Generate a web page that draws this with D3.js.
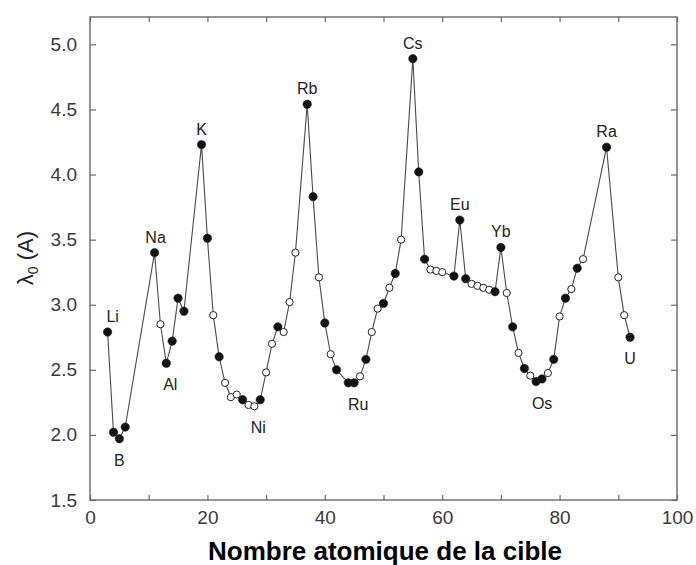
<!DOCTYPE html>
<html>
<head>
<meta charset="utf-8">
<script src="https://cdn.jsdelivr.net/npm/d3@7"></script>
<style>
  body { margin: 0; background: #fff; }
  svg { display: block; font-family: "Liberation Sans", Arial, sans-serif; }
</style>
</head>
<body>
<div id="chart"></div>
<script>
// numéro atomique de la cible et lambda_0 (A)
const atomicNumbers = [
  3, 4, 5, 6, 11, 12, 13, 14, 15, 16, 19, 20, 21, 22, 23, 24, 25, 26, 27, 28,
  29, 30, 31, 32, 33, 34, 35, 37, 38, 39, 40, 41, 42, 44, 45, 46, 47, 48, 49, 50,
  51, 52, 53, 55, 56, 57, 58, 59, 60, 62, 63, 64, 65, 66, 67, 68, 69, 70, 71, 72,
  73, 74, 75, 76, 77, 78, 79, 80, 81, 82, 83, 84, 88, 90, 91, 92
]
const lambdaValues = [
  2.79, 2.02, 1.97, 2.06, 3.40, 2.85, 2.55, 2.72, 3.05, 2.95, 4.23, 3.51, 2.92, 2.60, 2.40, 2.29, 2.31, 2.27, 2.23, 2.22,
  2.27, 2.48, 2.70, 2.83, 2.79, 3.02, 3.40, 4.54, 3.83, 3.21, 2.86, 2.62, 2.50, 2.40, 2.40, 2.45, 2.58, 2.79, 2.97, 3.01,
  3.13, 3.24, 3.50, 4.89, 4.02, 3.35, 3.27, 3.26, 3.25, 3.22, 3.65, 3.20, 3.16, 3.145, 3.13, 3.115, 3.10, 3.44, 3.09, 2.83,
  2.63, 2.51, 2.455, 2.41, 2.43, 2.475, 2.58, 2.91, 3.05, 3.12, 3.28, 3.35, 4.21, 3.21, 2.92, 2.75
]
// 1 = symbole plein, 0 = symbole creux
const filledFlags = [
  1, 1, 1, 1, 1, 0, 1, 1, 1, 1, 1, 1, 0, 1, 0, 0, 0, 1, 0, 0,
  1, 0, 0, 1, 0, 0, 0, 1, 1, 0, 1, 0, 1, 1, 1, 0, 1, 0, 0, 1,
  0, 1, 0, 1, 1, 1, 0, 0, 0, 1, 1, 1, 0, 0, 0, 0, 1, 1, 0, 1,
  0, 1, 0, 1, 1, 0, 1, 0, 1, 0, 1, 0, 1, 0, 0, 1
]

const labelNames = ["Li", "B", "Na", "Al", "K", "Ni", "Rb", "Ru", "Cs", "Eu", "Yb", "Os", "Ra", "U"]
const labelZ = [3, 5, 11, 13, 19, 28, 37, 44, 55, 63, 70, 76, 88, 92]
const labelSide = ["haut", "bas", "haut", "bas", "haut", "bas", "haut", "bas", "haut", "haut", "haut", "bas", "haut", "bas"]

const xTicks = [0, 10, 20, 30, 40, 50, 60, 70, 80, 90, 100]
const xTickLabels = [0, 20, 40, 60, 80, 100]
const yTicks = [1.5, 2.0, 2.5, 3.0, 3.5, 4.0, 4.5, 5.0]

const data = atomicNumbers.map((z, i) => ({ z, v: lambdaValues[i], filled: filledFlags[i] === 1 }))

const width = 696
const height = 565

const x = d3.scaleLinear().domain([0, 100]).range([90, 677])
const y = d3.scaleLinear().domain([1.5, 5.21]).range([500, 17])

const svg = d3.select("#chart")
  .append("svg")
  .attr("width", width)
  .attr("height", height)

const frameColor = "#6a6a6a"

// cadre
svg.append("rect")
  .attr("x", x(0))
  .attr("y", y(5.21))
  .attr("width", x(100) - x(0))
  .attr("height", y(1.5) - y(5.21))
  .attr("fill", "none")
  .attr("stroke", frameColor)
  .attr("stroke-width", 1.4)

function styleAxis(g) {
  g.select(".domain").remove()
  g.selectAll(".tick line").attr("stroke", frameColor).attr("stroke-width", 1.2)
  g.selectAll(".tick text")
    .attr("fill", "#3a3a3a")
    .style("font-size", "19px")
}

svg.append("g")
  .attr("transform", `translate(0,${y(1.5)})`)
  .call(d3.axisBottom(x).tickValues(xTicks).tickSizeInner(-5).tickSizeOuter(0).tickPadding(11)
    .tickFormat((d) => (xTickLabels.includes(d) ? d : "")))
  .call(styleAxis)

svg.append("g")
  .attr("transform", `translate(0,${y(5.21)})`)
  .call(d3.axisTop(x).tickValues(xTicks).tickSizeInner(-5).tickSizeOuter(0).tickFormat(""))
  .call(styleAxis)

svg.append("g")
  .attr("transform", `translate(${x(0)},0)`)
  .call(d3.axisLeft(y).tickValues(yTicks).tickSizeInner(-6).tickSizeOuter(0).tickPadding(13)
    .tickFormat(d3.format(".1f")))
  .call(styleAxis)

svg.append("g")
  .attr("transform", `translate(${x(100)},0)`)
  .call(d3.axisRight(y).tickValues(yTicks).tickSizeInner(-6).tickSizeOuter(0).tickFormat(""))
  .call(styleAxis)

// courbe
const line = d3.line().x((d) => x(d.z)).y((d) => y(d.v))

svg.append("path")
  .datum(data)
  .attr("d", line)
  .attr("fill", "none")
  .attr("stroke", "#4a4a4a")
  .attr("stroke-width", 1.1)

svg.append("g")
  .selectAll("circle")
  .data(data)
  .enter()
  .append("circle")
  .attr("cx", (d) => x(d.z))
  .attr("cy", (d) => y(d.v))
  .attr("r", (d) => (d.filled ? 4.2 : 3.6))
  .attr("fill", (d) => (d.filled ? "#111" : "#fff"))
  .attr("stroke", "#222")
  .attr("stroke-width", (d) => (d.filled ? 0.6 : 1))

// étiquettes des éléments
const labelNudge = { Li: 5, Al: 4, Ni: 4, Ru: 10, Os: 6, Na: 1 }
const zToValue = new Map(data.map((d) => [d.z, d.v]))

svg.append("g")
  .selectAll("text")
  .data(labelNames)
  .enter()
  .append("text")
  .attr("x", (d, i) => x(labelZ[i]) + (labelNudge[d] || 0))
  .attr("y", (d, i) => y(zToValue.get(labelZ[i])) + (labelSide[i] === "haut" ? -10 : 27))
  .attr("text-anchor", "middle")
  .attr("fill", "#222")
  .style("font-size", "16px")
  .text((d) => d)

// titres des axes
svg.append("text")
  .attr("x", 385)
  .attr("y", 560)
  .attr("text-anchor", "middle")
  .attr("fill", "#000")
  .style("font-size", "26px")
  .style("font-weight", "bold")
  .text("Nombre atomique de la cible")

const yTitle = svg.append("text")
  .attr("transform", "translate(33,258) rotate(-90)")
  .attr("text-anchor", "middle")
  .attr("fill", "#222")
  .style("font-size", "22px")

yTitle.append("tspan").text("λ")
yTitle.append("tspan").attr("dy", 5).style("font-size", "14px").text("0")
yTitle.append("tspan").attr("dy", -5).text(" (A)")
</script>
</body>
</html>
